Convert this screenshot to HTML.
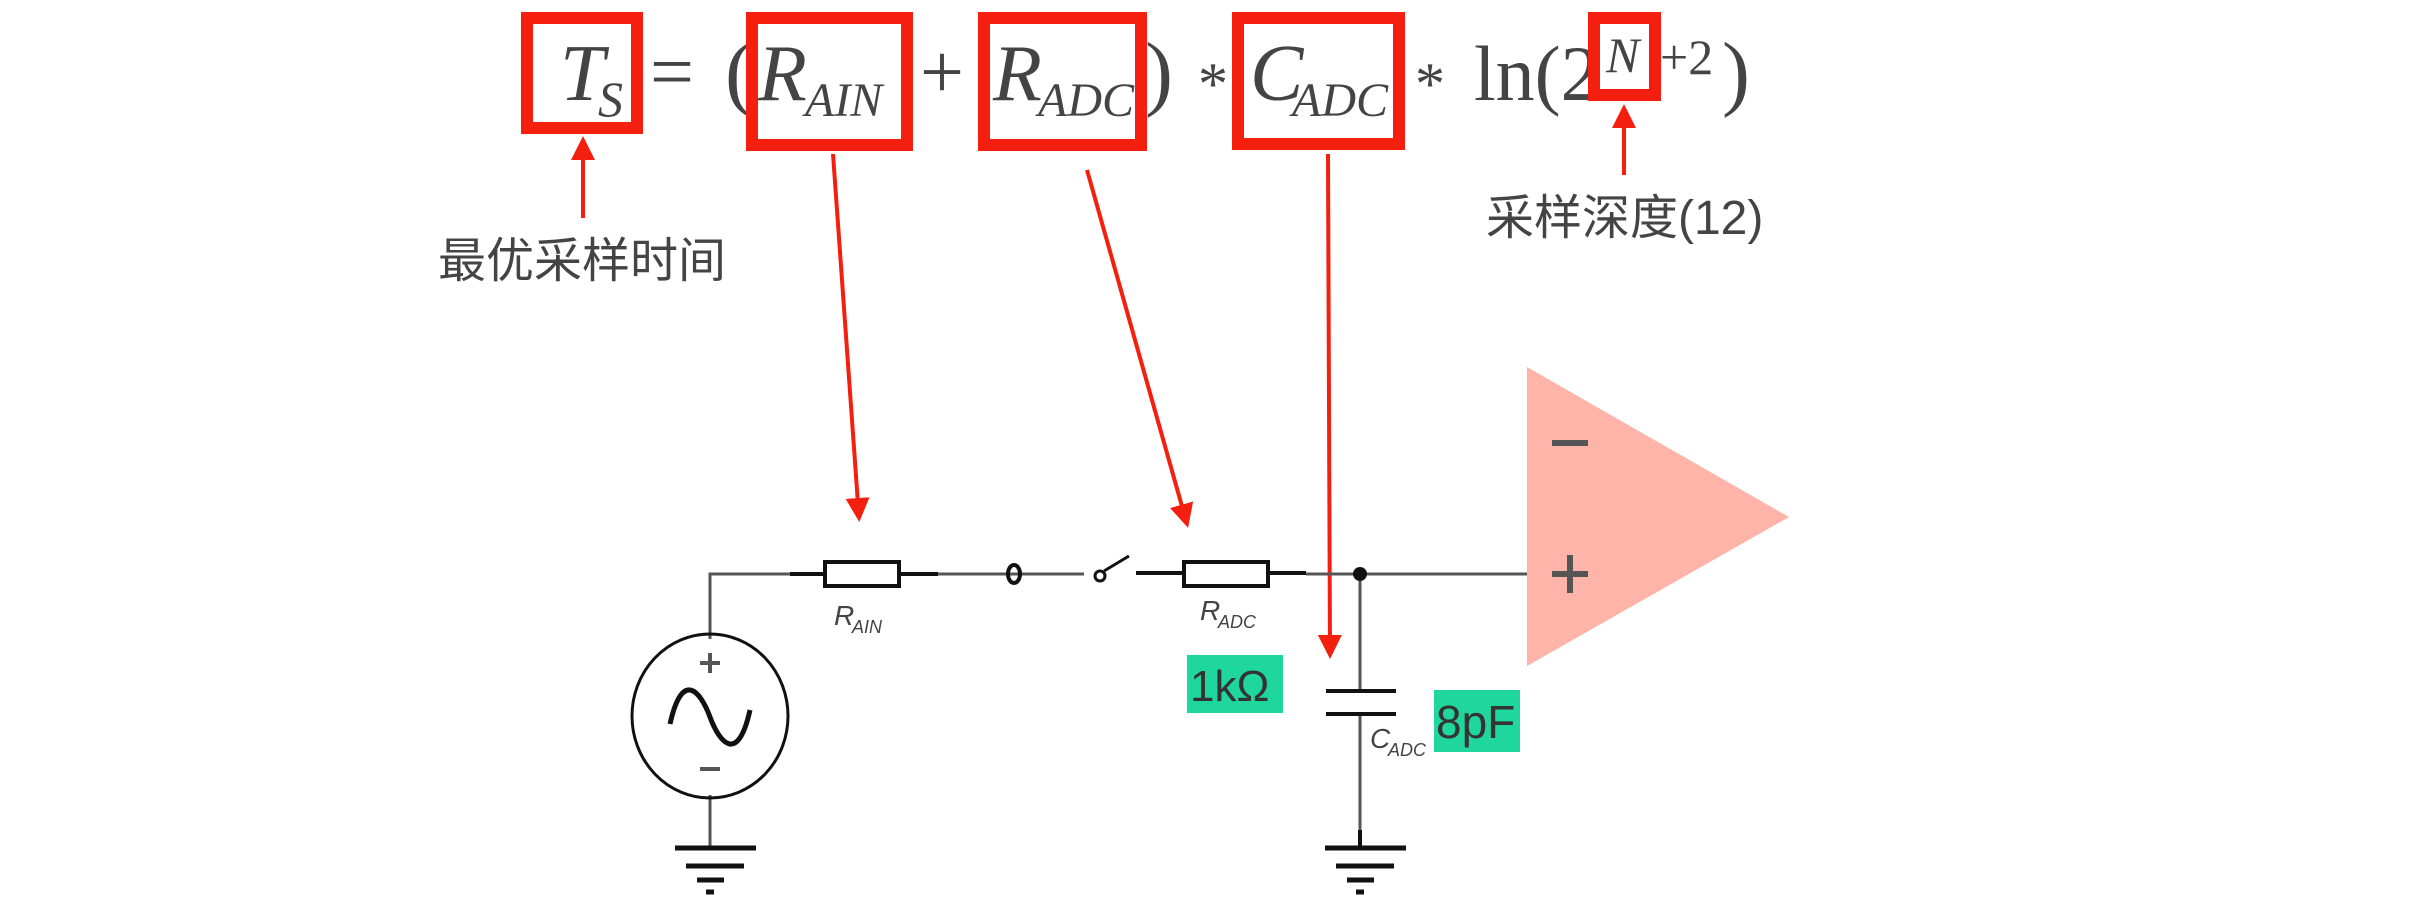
<!DOCTYPE html>
<html><head><meta charset="utf-8"><style>
html,body{margin:0;padding:0;background:#fff;}
svg{display:block}
.f{font-family:"Liberation Serif",serif;font-style:italic;fill:#444}
.u{font-family:"Liberation Serif",serif;fill:#444}
.c{font-family:"Liberation Sans","Noto Sans CJK SC",sans-serif;fill:#444}
.s{font-family:"Liberation Sans",sans-serif;font-style:italic;fill:#444}
</style></head><body>
<svg width="2418" height="903" viewBox="0 0 2418 903" xmlns="http://www.w3.org/2000/svg">
<defs>
<marker id="ah" markerWidth="6" markerHeight="6" refX="5" refY="3" orient="auto" markerUnits="strokeWidth">
<path d="M0,0 L6,3 L0,6 z" fill="#f51f0f"/></marker>
</defs>
<!-- formula -->
<text class="f" x="560" y="100" font-size="80">T</text>
<text class="f" x="598" y="116" font-size="50">S</text>
<text class="u" x="650" y="98" font-size="78">=</text>
<text class="u" x="725" y="100" font-size="84">(</text>
<text class="f" x="758" y="100" font-size="80">R</text>
<text class="f" x="805" y="116" font-size="48">AIN</text>
<text class="u" x="920" y="98" font-size="78">+</text>
<text class="f" x="993" y="100" font-size="80">R</text>
<text class="f" x="1038" y="116" font-size="48">ADC</text>
<text class="u" x="1145" y="100" font-size="84">)</text>
<text class="u" x="1198" y="104" font-size="60">*</text>
<text class="f" x="1250" y="100" font-size="80">C</text>
<text class="f" x="1292" y="116" font-size="48">ADC</text>
<text class="u" x="1415" y="104" font-size="60">*</text>
<text class="u" x="1474" y="100" font-size="78">ln(2</text>
<text class="f" x="1606" y="72" font-size="50">N</text>
<text class="u" x="1660" y="74" font-size="50">+2</text>
<text class="u" x="1722" y="100" font-size="84">)</text>
<!-- red boxes -->
<g fill="none" stroke="#f51f0f" stroke-width="12">
<rect x="527" y="18" width="110" height="110"/>
<rect x="752" y="18" width="155" height="127"/>
<rect x="984" y="18" width="157" height="127"/>
<rect x="1238" y="18" width="161" height="126"/>
<rect x="1594" y="18" width="61" height="77"/>
</g>
<!-- arrows -->
<g stroke="#f51f0f" stroke-width="4" fill="none" marker-end="url(#ah)">
<line x1="583" y1="218" x2="583" y2="140"/>
<line x1="1624" y1="175" x2="1624" y2="108"/>
<line x1="833" y1="154" x2="859" y2="518"/>
<line x1="1087" y1="170" x2="1187" y2="524"/>
<line x1="1328" y1="154" x2="1330" y2="655"/>
</g>
<text class="c" x="438" y="277" font-size="48">最优采样时间</text>
<text class="c" x="1486" y="234" font-size="48">采样深度(12)</text>
<!-- opamp -->
<polygon points="1527,367 1789,517 1527,666" fill="#ffb4a9"/>
<rect x="1552" y="440" width="36" height="6" fill="#555"/>
<rect x="1552" y="571" width="36" height="6" fill="#555"/>
<rect x="1567" y="555" width="6" height="38" fill="#555"/>
<!-- wires -->
<g stroke="#555" stroke-width="3" fill="none">
<polyline points="710,639 710,574 790,574"/>
<line x1="938" y1="574" x2="1084" y2="574"/>
<line x1="1306" y1="574" x2="1527" y2="574"/>
<line x1="1360" y1="574" x2="1360" y2="691"/>
<line x1="1360" y1="714" x2="1360" y2="848"/>
<line x1="710" y1="795" x2="710" y2="848"/>
</g>
<g stroke="#111" stroke-width="4" fill="none">
<line x1="790" y1="574" x2="825" y2="574"/>
<line x1="899" y1="574" x2="938" y2="574"/>
<rect x="825" y="562" width="74" height="24" fill="#fff"/>
<line x1="1136" y1="573" x2="1184" y2="573"/>
<rect x="1184" y="562" width="84" height="24" fill="#fff"/>
<line x1="1268" y1="573" x2="1306" y2="573"/>
<ellipse cx="1014" cy="574" rx="6" ry="9" stroke-width="4"/>
<circle cx="1100" cy="576" r="5" stroke-width="3"/>
<line x1="1104" y1="571" x2="1129" y2="556" stroke-width="3"/>
<line x1="1326" y1="691" x2="1396" y2="691"/>
<line x1="1326" y1="714" x2="1396" y2="714"/>
<line x1="1360" y1="830" x2="1360" y2="848"/>
<line x1="1325" y1="848" x2="1406" y2="848" stroke-width="5"/>
<line x1="1336" y1="866" x2="1394" y2="866" stroke-width="5"/>
<line x1="1347" y1="880" x2="1374" y2="880" stroke-width="5"/>
<line x1="1356" y1="892" x2="1364" y2="892" stroke-width="5"/>
<line x1="675" y1="848" x2="756" y2="848" stroke-width="5"/>
<line x1="686" y1="866" x2="744" y2="866" stroke-width="5"/>
<line x1="697" y1="880" x2="724" y2="880" stroke-width="5"/>
<line x1="706" y1="892" x2="714" y2="892" stroke-width="5"/>
<ellipse cx="710" cy="716" rx="78" ry="82" stroke-width="3"/>
<path d="M670,724 C682,670 700,690 710,717 C720,744 738,764 750,710" stroke-width="5"/>
</g>
<circle cx="1360" cy="574" r="7" fill="#111"/>
<rect x="700" y="661" width="20" height="4" fill="#555"/><rect x="708" y="653" width="4" height="20" fill="#555"/>
<rect x="700" y="767" width="20" height="4" fill="#555"/>
<!-- labels -->
<text class="s" x="834" y="625" font-size="28">R</text><text class="s" x="852" y="633" font-size="18">AIN</text>
<text class="s" x="1200" y="620" font-size="28">R</text><text class="s" x="1218" y="628" font-size="18">ADC</text>
<text class="s" x="1370" y="748" font-size="28">C</text><text class="s" x="1388" y="756" font-size="18">ADC</text>
<rect x="1187" y="655" width="96" height="58" fill="#1fd79c"/>
<text x="1190" y="701" font-family="Liberation Sans,sans-serif" font-size="44" fill="#333">1kΩ</text>
<rect x="1434" y="690" width="86" height="62" fill="#1fd79c"/>
<text x="1436" y="738" font-family="Liberation Sans,sans-serif" font-size="46" fill="#333">8pF</text>
</svg>
</body></html>
